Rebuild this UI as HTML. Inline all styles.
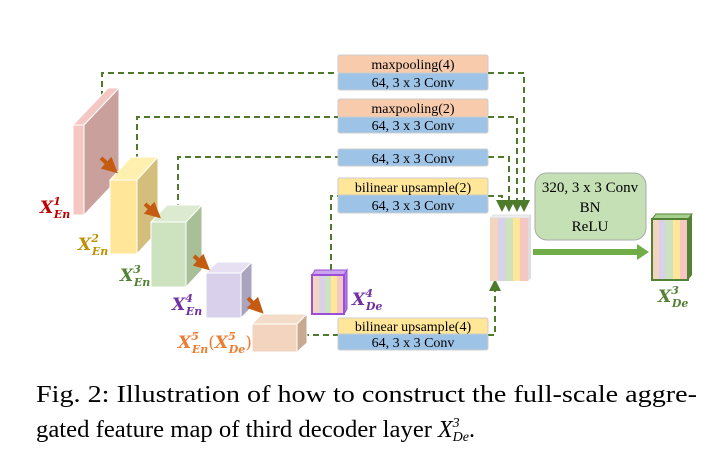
<!DOCTYPE html>
<html><head><meta charset="utf-8"><style>
body{margin:0;background:#fff;}
svg{display:block;}
.bx{font-family:"Liberation Serif",serif;font-size:14px;fill:#000;text-anchor:middle;}
.lab{font-family:"DejaVu Serif","Liberation Serif",serif;font-style:italic;font-weight:bold;}
.cap{font-family:"Liberation Serif",serif;font-size:24px;fill:#000;}
</style></head><body>
<svg width="717" height="455" viewBox="0 0 717 455" xmlns="http://www.w3.org/2000/svg">
<defs>
<marker id="ah" markerWidth="6" markerHeight="6" refX="3" refY="3" orient="auto"><path d="M0,0 L6,3 L0,6 z" fill="#4e7a2c"/></marker>
<marker id="oa" markerWidth="4" markerHeight="4" refX="2" refY="2" orient="auto"><path d="M0,0 L4,2 L0,4 z" fill="#c55a11"/></marker>
</defs>
<g fill="none" stroke="#4e7a2c" stroke-width="2" stroke-dasharray="6,4">
<path d="M102,97 V73 H338"/><path d="M488,73 H524 V206" marker-end="url(#ah)"/>
<path d="M137,160 V117 H338"/><path d="M488,117 H517 V206" marker-end="url(#ah)"/>
<path d="M178,210 V157 H338"/><path d="M488,157 H509 V206" marker-end="url(#ah)"/>
<path d="M331,270 V196 H338"/><path d="M488,196 H502 V206" marker-end="url(#ah)"/>
<path d="M303,335 H338"/><path d="M488,335 H495 V285" marker-end="url(#ah)"/>
</g>
<!-- boxes -->
<g stroke="#ccc" stroke-width="1">
<rect x="338" y="55" width="150" height="18" rx="2" fill="#f8cbad"/><rect x="338" y="73" width="150" height="17" rx="2" fill="#9dc3e6"/>
<rect x="338" y="99" width="150" height="18" rx="2" fill="#f8cbad"/><rect x="338" y="117" width="150" height="16" rx="2" fill="#9dc3e6"/>
<rect x="338" y="149" width="150" height="17" rx="2" fill="#9dc3e6"/>
<rect x="338" y="178" width="150" height="17" rx="2" fill="#ffe699"/><rect x="338" y="195" width="150" height="18" rx="2" fill="#9dc3e6"/>
<rect x="338" y="318" width="150" height="16" rx="2" fill="#ffe699"/><rect x="338" y="334" width="150" height="16" rx="2" fill="#9dc3e6"/>
</g>
<text class="bx" x="413" y="69">maxpooling(4)</text><text class="bx" x="413" y="87">64, 3 x 3 Conv</text>
<text class="bx" x="413" y="113">maxpooling(2)</text><text class="bx" x="413" y="130">64, 3 x 3 Conv</text>
<text class="bx" x="413" y="163">64, 3 x 3 Conv</text>
<text class="bx" x="413" y="192">bilinear upsample(2)</text><text class="bx" x="413" y="210">64, 3 x 3 Conv</text>
<text class="bx" x="413" y="331">bilinear upsample(4)</text><text class="bx" x="413" y="347">64, 3 x 3 Conv</text>
<!-- encoder blocks -->
<g stroke="#fff" stroke-width="1">
<polygon points="73,125 108,88 119,88 84,125" fill="#f4c7c3"/><polygon points="84,125 119,88 119,178 84,215" fill="#c9a09c"/><rect x="73" y="125" width="11" height="90" fill="#f4c7c3"/>
<polygon points="110,180 131,157 158,157 137,180" fill="#fff0b0"/><polygon points="137,180 158,157 158,231 137,254" fill="#d4be7c"/><rect x="110" y="180" width="27" height="74" fill="#ffe699"/>
<polygon points="151,222 167,205 202,205 186,222" fill="#dcebd0"/><polygon points="186,222 202,205 202,270 186,287" fill="#a8bf97"/><rect x="151" y="222" width="35" height="65" fill="#cde2bf"/>
<polygon points="206,273 217,262 252,262 241,273" fill="#e6e0f2"/><polygon points="241,273 252,262 252,307 241,318" fill="#aba4be"/><rect x="206" y="273" width="35" height="45" fill="#d9d1ec"/>
<polygon points="252,324 262,314 307,314 297,324" fill="#f3ddc9"/><polygon points="297,324 307,314 307,343 297,352" fill="#c8a991"/><rect x="252" y="324" width="45" height="28" fill="#f3d5bf"/>
</g>
<g stroke="#c55a11" stroke-width="4" marker-end="url(#oa)">
<line x1="101" y1="158" x2="112" y2="168"/><line x1="145" y1="204" x2="155" y2="213"/><line x1="194" y1="256" x2="204" y2="265"/><line x1="248" y1="298" x2="258" y2="308"/>
</g>
<!-- XDe4 -->
<g>
<polygon points="312,275 315,270 347,270 344,275" fill="#c9a3ee" stroke="#9b4fd8"/>
<polygon points="344,275 347,270 347,309 344,314" fill="#b07ae6" stroke="#9b4fd8"/>
<rect x="312" y="275" width="32" height="39" fill="#f3d5bf" stroke="#9b4fd8" stroke-width="2"/>
<rect x="319" y="276" width="6" height="37" fill="#d9d1ec"/><rect x="325" y="276" width="6" height="37" fill="#cde2bf"/><rect x="331" y="276" width="6" height="37" fill="#ffe699"/><rect x="337" y="276" width="6" height="37" fill="#f4c7c3"/>
</g>
<!-- concat -->
<g>
<polygon points="490,218 493,215 531,215 528,218" fill="#eee" stroke="#ccc" stroke-width=".5"/>
<polygon points="528,218 531,215 531,278 528,281" fill="#ddd"/>
<rect x="490" y="218" width="8" height="63" fill="#f3d5bf"/><rect x="498" y="218" width="7" height="63" fill="#d9d1ec"/><rect x="505" y="218" width="8" height="63" fill="#cde2bf"/><rect x="513" y="218" width="7" height="63" fill="#ffe699"/><rect x="520" y="218" width="8" height="63" fill="#f4c7c3"/>
</g>
<rect x="535" y="173" width="111" height="67" rx="12" fill="#c5e0b4" stroke="#aaa"/>
<text class="bx" x="590" y="192" style="font-size:15px">320, 3 x 3 Conv</text>
<text class="bx" x="590" y="212" style="font-size:15px">BN</text>
<text class="bx" x="590" y="231" style="font-size:15px">ReLU</text>
<rect x="533" y="249" width="106" height="6" fill="#70ad47"/><polygon points="637,244 649,252 637,260" fill="#70ad47"/>
<!-- output -->
<g>
<polygon points="652,219 656,214 692,214 688,219" fill="#a9d18e" stroke="#548235"/>
<polygon points="688,219 692,214 692,275 688,280" fill="#548235"/>
<rect x="652" y="219" width="36" height="61" fill="#f3d5bf" stroke="#548235" stroke-width="2"/>
<rect x="659" y="220" width="6" height="59" fill="#d9d1ec"/><rect x="665" y="220" width="8" height="59" fill="#cde2bf"/><rect x="673" y="220" width="7" height="59" fill="#ffe699"/><rect x="680" y="220" width="7" height="59" fill="#f4c7c3"/>
</g>
<!-- labels -->
<g class="lab">
<text x="40" y="213" fill="#c00000" font-size="17">X<tspan font-size="11" dy="-8">1</tspan><tspan font-size="11" dx="-7" dy="13">En</tspan></text>
<text x="78" y="250" fill="#bf9000" font-size="17">X<tspan font-size="11" dy="-8">2</tspan><tspan font-size="11" dx="-7" dy="13">En</tspan></text>
<text x="120" y="281" fill="#548235" font-size="17">X<tspan font-size="11" dy="-8">3</tspan><tspan font-size="11" dx="-7" dy="13">En</tspan></text>
<text x="172" y="310" fill="#7030a0" font-size="17">X<tspan font-size="11" dy="-8">4</tspan><tspan font-size="11" dx="-7" dy="13">En</tspan></text>
<text x="178" y="348" fill="#ed7d31" font-size="17">X<tspan font-size="11" dy="-8">5</tspan><tspan font-size="11" dx="-7" dy="13">En</tspan><tspan dy="-5" font-style="normal" font-weight="normal">(</tspan>X<tspan font-size="11" dy="-8">5</tspan><tspan font-size="11" dx="-7" dy="13">De</tspan><tspan dy="-5" font-style="normal" font-weight="normal">)</tspan></text>
<text x="352" y="305" fill="#7030a0" font-size="17">X<tspan font-size="11" dy="-8">4</tspan><tspan font-size="11" dx="-7" dy="13">De</tspan></text>
<text x="658" y="302" fill="#548235" font-size="17">X<tspan font-size="11" dy="-8">3</tspan><tspan font-size="11" dx="-7" dy="13">De</tspan></text>
</g>
<text class="cap" x="36" y="402" textLength="661" lengthAdjust="spacingAndGlyphs">Fig. 2: Illustration of how to construct the full-scale aggre-</text>
<text class="cap" x="36" y="437" textLength="396" lengthAdjust="spacingAndGlyphs">gated feature map of third decoder layer</text>
<text class="cap" x="438" y="437" font-style="italic">X<tspan font-size="14" dy="-10">3</tspan><tspan font-size="14" dx="-7" dy="14">De</tspan><tspan dy="-4" font-style="normal">.</tspan></text>
</svg>
</body></html>
